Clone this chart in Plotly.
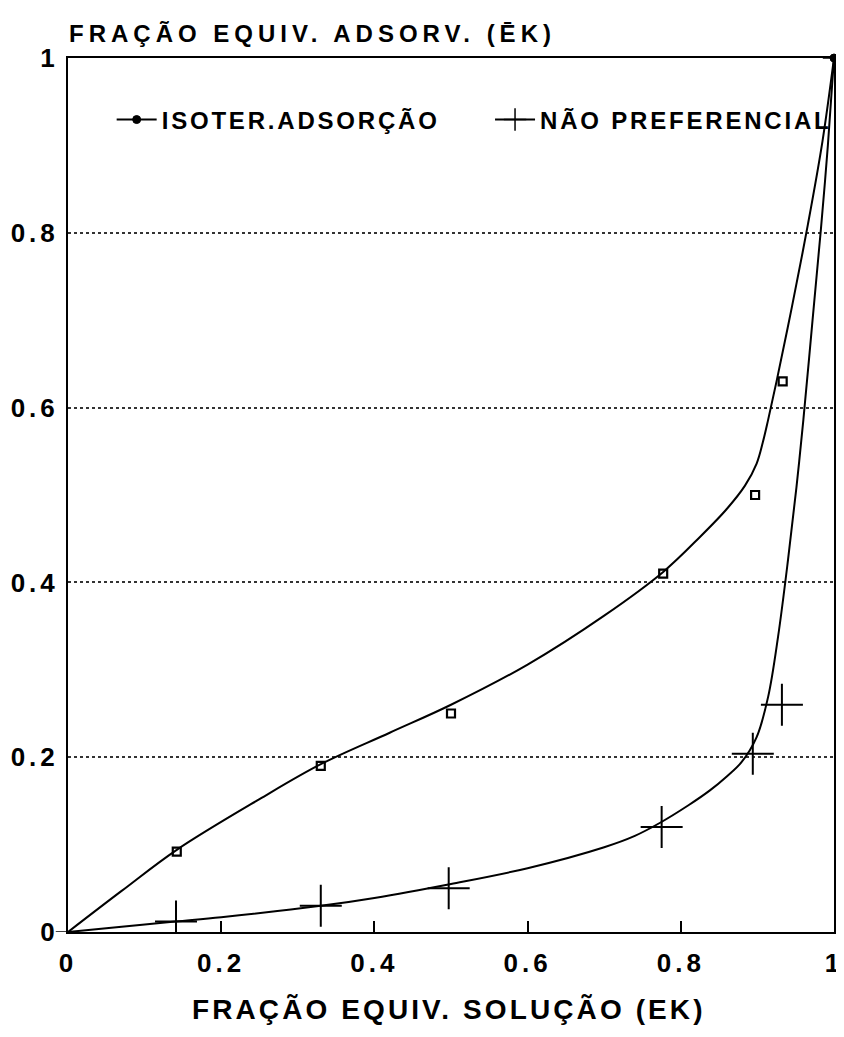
import plotly.graph_objects as go

# ---- data ----
iso_pts_x = [0.142, 0.33, 0.50, 0.777, 0.897, 0.933]
iso_pts_y = [0.092, 0.19, 0.25, 0.41, 0.50, 0.63]

np_pts_x = [0.141, 0.33, 0.497, 0.775, 0.894, 0.932]
np_pts_y = [0.012, 0.03, 0.05, 0.12, 0.204, 0.26]

# fitted curves (ordered from the (1,1) end)
iso_curve_x = [1.0, 0.985, 0.966, 0.945, 0.925, 0.914, 0.907, 0.899, 0.884, 0.860,
               0.825, 0.777, 0.70, 0.60, 0.50, 0.42, 0.33, 0.25, 0.142, 0.07, 0.0]
iso_curve_y = [1.0, 0.905, 0.81, 0.715, 0.63, 0.586, 0.56, 0.536, 0.511, 0.484,
               0.452, 0.412, 0.362, 0.306, 0.26, 0.228, 0.192, 0.152, 0.094, 0.047, 0.0]

np_curve_x = [1.0, 0.992, 0.983, 0.972, 0.960, 0.951, 0.940, 0.927, 0.914, 0.899, 0.879,
              0.860, 0.838, 0.810, 0.773, 0.740, 0.70, 0.60, 0.50, 0.40, 0.33, 0.20, 0.14,
              0.07, 0.0]
np_curve_y = [1.0, 0.90, 0.805, 0.70, 0.586, 0.509, 0.426, 0.338, 0.269, 0.223, 0.194,
              0.178, 0.162, 0.145, 0.125, 0.110, 0.097, 0.073, 0.055, 0.039, 0.03, 0.017,
              0.012, 0.006, 0.0]

tick_vals = [0, 0.2, 0.4, 0.6, 0.8, 1]
tick_text = ["0", "0.2", "0.4", "0.6", "0.8", "1"]

name_iso = "ISOTER.ADSORÇÃO"
name_np = "NÃO PREFERENCIAL"
x_title = "FRAÇÃO EQUIV. SOLUÇÃO (EK)"
y_title = "FRAÇÃO EQUIV. ADSORV. (ĒK)"

FONT = "Liberation Sans, Arial, Helvetica, sans-serif"


def spaced(t, px):
    return f"<span style='letter-spacing:{px}px'>{t}</span>"


fig = go.Figure()

# isotherm curve (legend entry); only the (1,1) end marker is visible
iso_colors = ["black"] + ["rgba(0,0,0,0)"] * (len(iso_curve_x) - 1)
fig.add_trace(go.Scatter(
    x=iso_curve_x, y=iso_curve_y, mode="lines+markers",
    name=spaced(name_iso, 2.8), legend="legend",
    line=dict(color="black", width=2, shape="spline", smoothing=1.0),
    marker=dict(symbol="circle", size=8, color=iso_colors,
                line=dict(color=iso_colors, width=1)),
    cliponaxis=False,
))

np_colors = ["black"] + ["rgba(0,0,0,0)"] * (len(np_curve_x) - 1)
fig.add_trace(go.Scatter(
    x=np_curve_x, y=np_curve_y, mode="lines+markers",
    name=spaced(name_np, 2.8), legend="legend2",
    line=dict(color="black", width=2, shape="spline", smoothing=1.0),
    marker=dict(symbol="cross-thin", size=16, color=np_colors,
                line=dict(color=np_colors, width=1.5)),
))

fig.add_trace(go.Scatter(
    x=iso_pts_x, y=iso_pts_y, mode="markers", showlegend=False,
    marker=dict(symbol="square-open", size=8, color="black",
                line=dict(color="black", width=2.2)),
))

fig.add_trace(go.Scatter(
    x=np_pts_x, y=np_pts_y, mode="markers", showlegend=False,
    marker=dict(symbol="cross-thin", size=30, color="black",
                line=dict(color="black", width=2)),
))

legend_style = dict(
    orientation="h", yanchor="middle", xanchor="left",
    xref="container", yref="container",
    font=dict(family=FONT, size=24, weight="bold"),
    bgcolor="rgba(0,0,0,0)", itemwidth=40,
)

# the page body adds an 8px offset; the figure is sized so the plot lands in place
fig.update_layout(
    width=836, height=1029,
    margin=dict(l=60, r=10, t=50, b=105, autoexpand=False),
    paper_bgcolor="white", plot_bgcolor="white",
    font=dict(family=FONT, color="black"),
    legend=dict(x=0.124, y=0.8912, **legend_style),
    legend2=dict(x=0.5766, y=0.8912, **legend_style),
    annotations=[
        dict(text=spaced(y_title, 5), xref="paper", yref="paper", x=0, y=1.0286,
             xanchor="left", yanchor="middle", showarrow=False, xshift=-1,
             font=dict(family=FONT, size=24, weight="bold")),
        dict(text=spaced(x_title, 3.1), xref="paper", yref="paper", x=0.497, y=-0.0892,
             xanchor="center", yanchor="middle", showarrow=False,
             font=dict(family=FONT, size=28, weight="bold")),
    ],
    shapes=[
        dict(type="line", xref="paper", yref="y", x0=-0.016, x1=0, y0=0, y1=0,
             line=dict(color="black", width=1.5)),
    ],
)

fig.update_xaxes(
    range=[0, 1], tickvals=tick_vals, ticktext=[spaced(t, 4) for t in tick_text],
    showgrid=False, zeroline=False,
    showline=True, linecolor="black", linewidth=2, mirror=True,
    ticks="inside", ticklen=11, tickwidth=1.5, tickcolor="black",
    ticklabelstandoff=7,
    tickfont=dict(family=FONT, size=26, weight="bold"),
)
fig.update_yaxes(
    range=[0, 1], tickvals=tick_vals, ticktext=[spaced(t, 4) for t in tick_text],
    showgrid=True, gridcolor="#333", gridwidth=1.5, griddash="dot",
    zeroline=False,
    showline=True, linecolor="black", linewidth=2, mirror=True,
    ticks="", ticklabelstandoff=2,
    tickfont=dict(family=FONT, size=26, weight="bold"),
)

fig.write_html("out.html")
